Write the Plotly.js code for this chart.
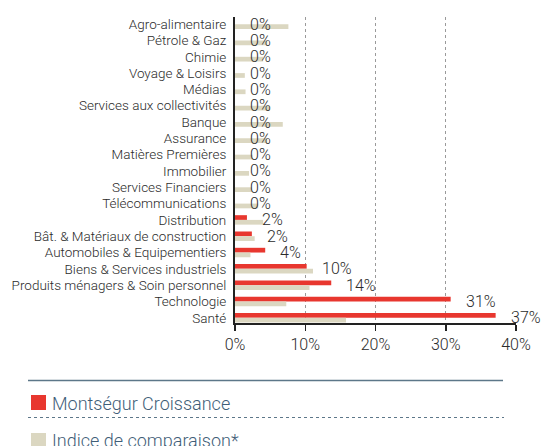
<!DOCTYPE html>
<html>
<head>
<meta charset="utf-8">
<script src="https://cdn.plot.ly/plotly-3.0.1.min.js"></script>
<style>html,body{margin:0;padding:0;background:#fff;}#chart{width:543px;height:446px;}</style>
</head>
<body>
<div id="chart"></div>
<script>
const categories = ["Agro-alimentaire","Pétrole & Gaz","Chimie","Voyage & Loisirs","Médias","Services aux collectivités","Banque","Assurance","Matières Premières","Immobilier","Services Financiers","Télécommunications","Distribution","Bât. & Matériaux de construction","Automobiles & Equipementiers","Biens & Services industriels","Produits ménagers & Soin personnel","Technologie","Santé"];
const fundValues = [0,0,0,0,0,0,0,0,0,0,0,0,1.7,2.4,4.3,10.2,13.7,30.7,37.1];
const indexValues = [7.6,4.6,4.0,1.4,1.5,5.0,6.8,4.6,2.5,2.0,2.4,3.3,4.0,2.8,2.2,11.1,10.6,7.3,15.8];
const fundLabels = ["0%","0%","0%","0%","0%","0%","0%","0%","0%","0%","0%","0%","2%","2%","4%","10%","14%","31%","37%"];
const xTicks = [0,10,20,30,40];
const xTickLabels = ["0%","10%","20%","30%","40%"];
const fundName = "Montségur Croissance";
const indexName = "Indice de comparaison*";

const RED = "#e8372f", BEIGE = "#dbd7c1", TXT = "#2b2b2b", LEG = "#3f5e78";
const FONT = "Roboto, 'Liberation Sans', sans-serif";

const traces = [
  {type:"bar", orientation:"h", name:fundName, y:categories, x:fundValues, marker:{color:RED}, hoverinfo:"skip"},
  {type:"bar", orientation:"h", name:indexName, y:categories, x:indexValues, marker:{color:BEIGE}, hoverinfo:"skip"}
];

const annotations = categories.map((c,i)=>({
  x: fundValues[i], y: c, xref:"x", yref:"y", text: fundLabels[i],
  showarrow:false, xanchor:"left", yanchor:"middle", xshift:13, yshift:0,
  font:{family:FONT, size:16, color:TXT, weight:300}
}));

// legend built as paper-coordinate shapes + text
const L = 235, R = 516, T = 17, B = 323;
const px = v => (v - L) / (R - L);
const py = v => (B - v) / (B - T);
annotations.push(
  {xref:"paper", yref:"paper", x:px(50), y:py(403), text:fundName, showarrow:false, xanchor:"left", yanchor:"middle", font:{family:FONT, size:18, color:LEG, weight:300}},
  {xref:"paper", yref:"paper", x:px(50), y:py(440), text:indexName, showarrow:false, xanchor:"left", yanchor:"middle", font:{family:FONT, size:18, color:LEG, weight:300}}
);
const shapes = [
  {type:"line", xref:"paper", yref:"paper", x0:px(28), x1:px(503), y0:py(380.5), y1:py(380.5), line:{color:"#5d7789", width:1.5}},
  {type:"rect", xref:"paper", yref:"paper", x0:px(31), x1:px(46), y0:py(395), y1:py(410), line:{width:0}, fillcolor:RED},
  {type:"line", xref:"paper", yref:"paper", x0:px(28), x1:px(504), y0:py(417.5), y1:py(417.5), line:{color:"#5d7789", width:1, dash:"dot"}},
  {type:"rect", xref:"paper", yref:"paper", x0:px(31), x1:px(46), y0:py(433), y1:py(448), line:{width:0}, fillcolor:BEIGE}
];

const layout = {
  width:543, height:446,
  margin:{l:L, r:543-R, t:T, b:446-B, pad:0},
  paper_bgcolor:"#fff", plot_bgcolor:"#fff",
  barmode:"group", bargap:0.42, bargroupgap:0,
  showlegend:false,
  font:{family:FONT, color:TXT},
  xaxis:{range:[0,40], tickvals:xTicks, ticktext:xTickLabels, showgrid:true, gridcolor:"#9a9a9a", griddash:"dot", gridwidth:1,
         zeroline:false, showline:true, linecolor:"#222", linewidth:2, ticks:"outside", ticklen:6, tickcolor:"#222", tickwidth:1.5,
         tickfont:{family:FONT, size:16, color:TXT, weight:300}, fixedrange:true},
  yaxis:{type:"category", range:[18.32, -0.44], showgrid:false, zeroline:false, showline:true, linecolor:"#222", linewidth:2,
         ticks:"", ticklabelstandoff:4, tickfont:{family:FONT, size:13.5, color:TXT, weight:300}, fixedrange:true},
  annotations, shapes
};
Plotly.newPlot("chart", traces, layout, {staticPlot:true, displayModeBar:false});
</script>
</body>
</html>
